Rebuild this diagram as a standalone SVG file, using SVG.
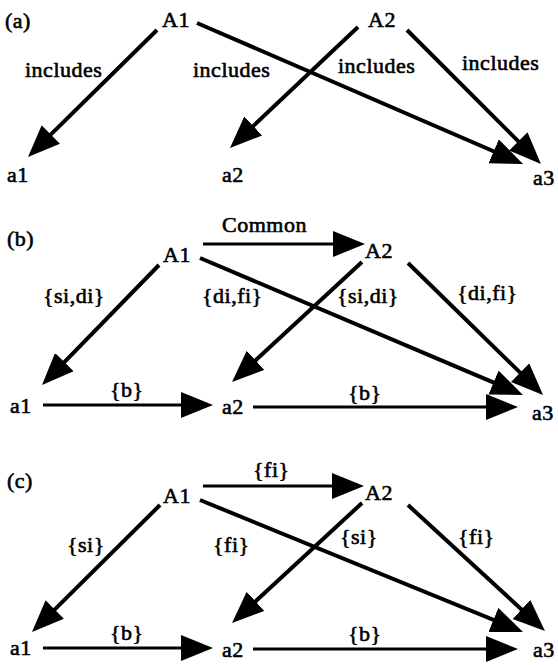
<svg xmlns="http://www.w3.org/2000/svg" width="558" height="665" viewBox="0 0 558 665">
  <style>
    .lbl { font-family: 'Liberation Serif', 'Times New Roman', Times, 'DejaVu Serif', serif; font-size: 22px; fill: #000; letter-spacing: 0.5px; stroke: #000; stroke-width: 0.6; }
    .edge { stroke: #000; stroke-width: 4; fill: none; marker-end: url(#head); }
    .flat { stroke-width: 3; }
  </style>
  <defs>
    <marker id="head" markerUnits="userSpaceOnUse" markerWidth="34" markerHeight="28" refX="24" refY="13" orient="auto">
      <path d="M0,0 L32,13 L0,26 Z" fill="#000"/>
    </marker>
  </defs>

  <g class="lbl" font-family="Liberation Serif, Times New Roman, serif">
    <!-- panel labels -->
    <text x="5" y="28">(a)</text>
    <text x="7" y="246">(b)</text>
    <text x="7" y="488">(c)</text>

    <!-- (a) includes -->
    <g id="a-A1"><text x="162" y="27">A1</text></g>
    <g id="a-A2"><text x="368" y="27">A2</text></g>
    <g id="a-a1"><text x="7" y="182">a1</text></g>
    <g id="a-a2"><text x="222" y="182">a2</text></g>
    <g id="a-a3"><text x="533" y="185">a3</text></g>

    <!-- (b) common -->
    <g id="b-A1"><text x="163" y="262">A1</text></g>
    <g id="b-A2"><text x="365" y="258">A2</text></g>
    <g id="b-a1"><text x="10" y="413">a1</text></g>
    <g id="b-a2"><text x="222" y="414">a2</text></g>
    <g id="b-a3"><text x="532" y="420">a3</text></g>

    <!-- (c) -->
    <g id="c-A1"><text x="163" y="503">A1</text></g>
    <g id="c-A2"><text x="365" y="500">A2</text></g>
    <g id="c-a1"><text x="10" y="655">a1</text></g>
    <g id="c-a2"><text x="222" y="657">a2</text></g>
    <g id="c-a3"><text x="533" y="657">a3</text></g>
  </g>

  <g id="connectors">
    <!-- (a) -->
    <line class="edge" x1="157" y1="30" x2="33.7" y2="151.4"/>
    <line class="edge" x1="197" y1="23" x2="515.7" y2="160.8"/>
    <line class="edge" x1="407" y1="30" x2="535.3" y2="158.3"/>
    <line class="edge" x1="358" y1="27" x2="235.8" y2="142.5"/>
    <!-- (b) -->
    <line class="edge flat" x1="203" y1="244" x2="357" y2="244"/>
    <line class="edge" x1="159" y1="265" x2="47.6" y2="379.3"/>
    <line class="edge" x1="200" y1="258" x2="515.6" y2="391.9"/>
    <line class="edge" x1="408" y1="263" x2="537.3" y2="389.4"/>
    <line class="edge" x1="362" y1="262" x2="237.9" y2="376.6"/>
    <line class="edge flat" x1="43" y1="405" x2="205" y2="405"/>
    <line class="edge flat" x1="253" y1="407" x2="510" y2="407"/>
    <!-- (c) -->
    <line class="edge flat" x1="203" y1="486" x2="356" y2="486"/>
    <line class="edge" x1="160" y1="505" x2="37.7" y2="626.4"/>
    <line class="edge" x1="200" y1="500" x2="515.6" y2="629"/>
    <line class="edge" x1="408" y1="505" x2="539.1" y2="625.6"/>
    <line class="edge" x1="362" y1="503" x2="237.9" y2="617.6"/>
    <line class="edge flat" x1="43" y1="648" x2="205" y2="648"/>
    <line class="edge flat" x1="253" y1="649" x2="510" y2="649"/>

    <!-- edge labels -->
    <g class="lbl" font-family="Liberation Serif, Times New Roman, serif">
      <text x="25" y="77">includes</text>
      <text x="193" y="77">includes</text>
      <text x="338" y="73">includes</text>
      <text x="462" y="70">includes</text>

      <text x="222" y="232">Common</text>
      <text x="43" y="303">{si,di}</text>
      <text x="202" y="303">{di,fi}</text>
      <text x="337" y="303">{si,di}</text>
      <text x="457" y="300">{di,fi}</text>
      <text x="110" y="397">{b}</text>
      <text x="348" y="400">{b}</text>

      <text x="253" y="477">{fi}</text>
      <text x="67" y="552">{si}</text>
      <text x="213" y="552">{fi}</text>
      <text x="340" y="544">{si}</text>
      <text x="458" y="544">{fi}</text>
      <text x="110" y="640">{b}</text>
      <text x="348" y="641">{b}</text>
    </g>
  </g>
</svg>
